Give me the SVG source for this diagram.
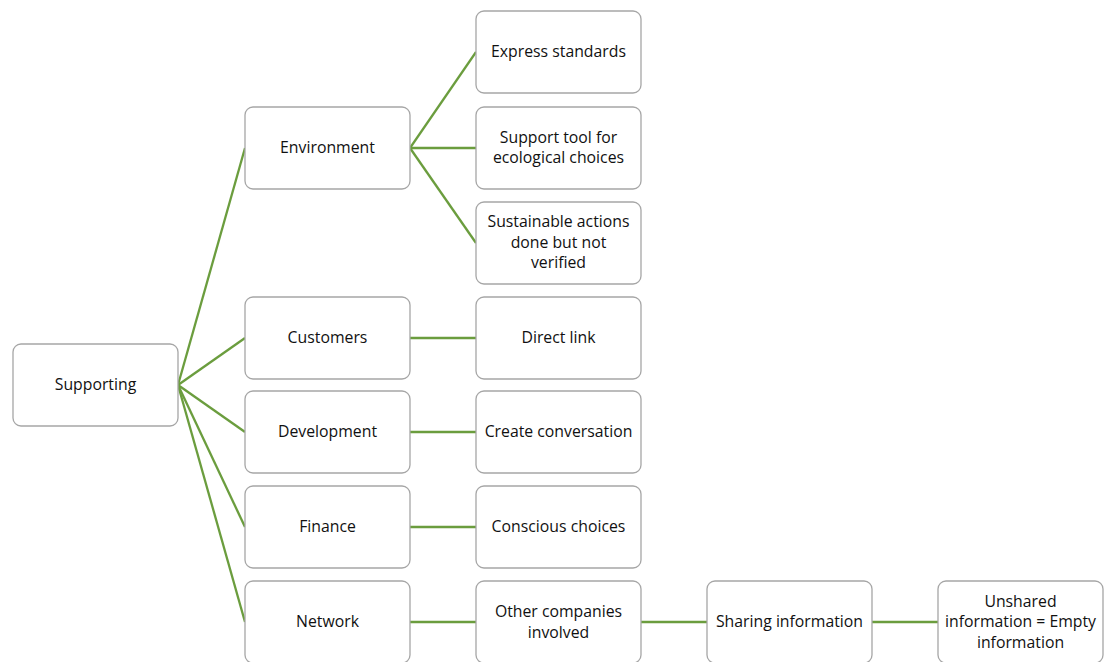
<svg xmlns="http://www.w3.org/2000/svg" width="1109" height="662" viewBox="0 0 1109 662">
<style>
.box{fill:#ffffff;stroke:#a6a6a6;stroke-width:1.3}
.t{font-family:"Open Sans","Liberation Sans",sans-serif;font-size:15.8px;fill:#111;text-anchor:middle;dominant-baseline:central}
.c{stroke:#6b9d3e;stroke-width:2.3;fill:none}
</style>
<rect width="1109" height="662" fill="#ffffff"/>
<g id="connectors">
<line class="c" x1="178" y1="385" x2="245" y2="148"/>
<line class="c" x1="178" y1="385" x2="245" y2="338"/>
<line class="c" x1="178" y1="385" x2="245" y2="432"/>
<line class="c" x1="178" y1="385" x2="245" y2="527"/>
<line class="c" x1="178" y1="385" x2="245" y2="622"/>
<line class="c" x1="410" y1="148" x2="476" y2="52"/>
<line class="c" x1="410" y1="148" x2="476" y2="148"/>
<line class="c" x1="410" y1="148" x2="476" y2="243"/>
<line class="c" x1="410" y1="338" x2="476" y2="338"/>
<line class="c" x1="410" y1="432" x2="476" y2="432"/>
<line class="c" x1="410" y1="527" x2="476" y2="527"/>
<line class="c" x1="410" y1="622" x2="476" y2="622"/>
<line class="c" x1="641" y1="622" x2="707" y2="622"/>
<line class="c" x1="872" y1="622" x2="938" y2="622"/>
</g>
<g id="n-supporting"><rect class="box" x="13" y="344" width="165" height="82" rx="8"/><text class="t" x="95.5" y="384">Supporting</text></g>
<g id="n-environment"><rect class="box" x="245" y="107" width="165" height="82" rx="8"/><text class="t" x="327.5" y="147">Environment</text></g>
<g id="n-customers"><rect class="box" x="245" y="297" width="165" height="82" rx="8"/><text class="t" x="327.5" y="337">Customers</text></g>
<g id="n-development"><rect class="box" x="245" y="391" width="165" height="82" rx="8"/><text class="t" x="327.5" y="431">Development</text></g>
<g id="n-finance"><rect class="box" x="245" y="486" width="165" height="82" rx="8"/><text class="t" x="327.5" y="526">Finance</text></g>
<g id="n-network"><rect class="box" x="245" y="581" width="165" height="82" rx="8"/><text class="t" x="327.5" y="621">Network</text></g>
<g id="n-express"><rect class="box" x="476" y="11" width="165" height="82" rx="8"/><text class="t" x="558.5" y="51">Express standards</text></g>
<g id="n-support"><rect class="box" x="476" y="107" width="165" height="82" rx="8"/><text class="t" x="558.5" y="137">Support tool for</text><text class="t" x="558.5" y="157">ecological choices</text></g>
<g id="n-sustainable"><rect class="box" x="476" y="202" width="165" height="82" rx="8"/><text class="t" x="558.5" y="221">Sustainable actions</text><text class="t" x="558.5" y="242">done but not</text><text class="t" x="558.5" y="262">verified</text></g>
<g id="n-direct"><rect class="box" x="476" y="297" width="165" height="82" rx="8"/><text class="t" x="558.5" y="337">Direct link</text></g>
<g id="n-create"><rect class="box" x="476" y="391" width="165" height="82" rx="8"/><text class="t" x="558.5" y="431">Create conversation</text></g>
<g id="n-conscious"><rect class="box" x="476" y="486" width="165" height="82" rx="8"/><text class="t" x="558.5" y="526">Conscious choices</text></g>
<g id="n-other"><rect class="box" x="476" y="581" width="165" height="82" rx="8"/><text class="t" x="558.5" y="611">Other companies</text><text class="t" x="558.5" y="632">involved</text></g>
<g id="n-sharing"><rect class="box" x="707" y="581" width="165" height="82" rx="8"/><text class="t" x="789.5" y="621">Sharing information</text></g>
<g id="n-unshared"><rect class="box" x="938" y="581" width="165" height="82" rx="8"/><text class="t" x="1020.5" y="601">Unshared</text><text class="t" x="1020.5" y="621">information = Empty</text><text class="t" x="1020.5" y="642">information</text></g>
</svg>
